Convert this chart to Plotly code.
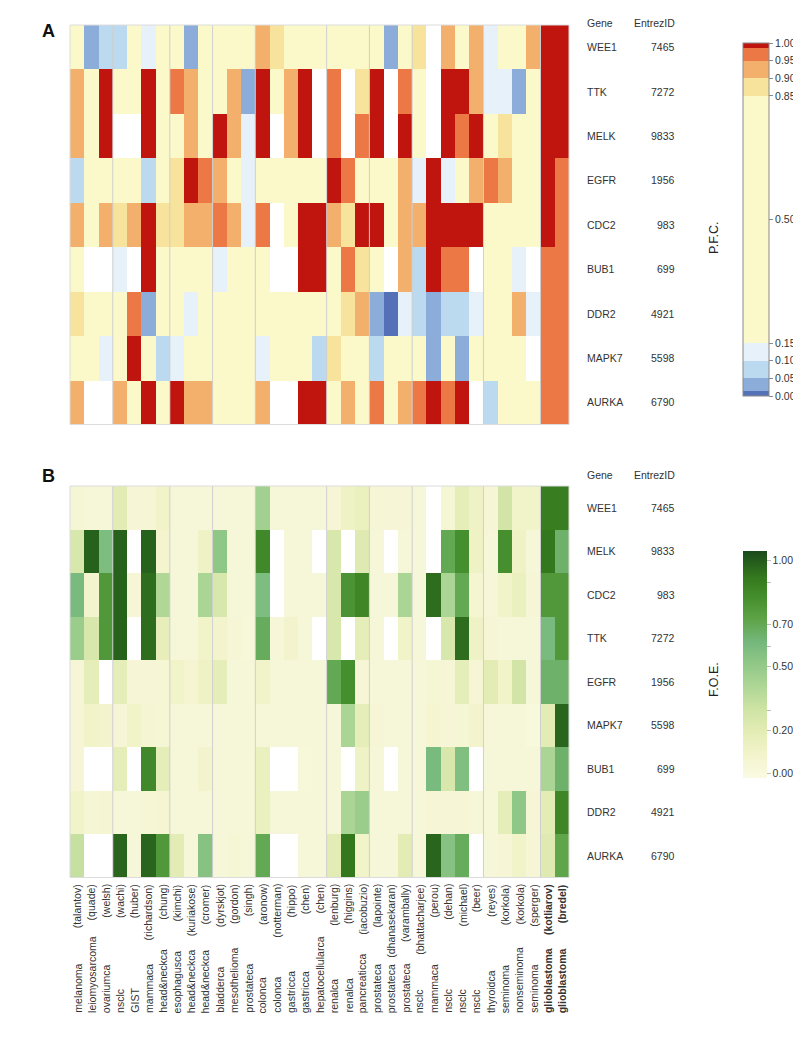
import plotly.graph_objects as go

# ---------------- data ----------------
diseases = ["melanoma", "leiomyosarcoma", "ovariumca", "nsclc", "GIST", "mammaca",
            "head&neckca", "esophagusca", "head&neckca", "head&neckca", "bladderca",
            "mesothelioma", "prostateca", "colonca", "colonca", "gastricca", "gastricca",
            "hepatocellularca", "renalca", "renalca", "pancreaticca", "prostateca",
            "prostateca", "prostateca", "nsclc", "mammaca", "nsclc", "nsclc", "nsclc",
            "thyroidca", "seminoma", "nonseminoma", "seminoma", "glioblastoma", "glioblastoma"]
authors = ["talantov", "quade", "welsh", "wachi", "huber", "richardson", "chung", "kimchi",
           "kuriakose", "cromer", "dyrskjot", "gordon", "singh", "aronow", "notterman",
           "hippo", "chen", "chen", "lenburg", "higgins", "iacobuzio", "lapointe",
           "dhanasekaran", "varambally", "bhattacharjee", "perou", "dehan", "michael",
           "beer", "reyes", "korkola", "korkola", "sperger", "kotliarov", "bredel"]
bold_cols = [33, 34]
group_breaks = [3, 7, 10, 13, 18, 21, 24, 29, 33]

genes_a = ["WEE1", "TTK", "MELK", "EGFR", "CDC2", "BUB1", "DDR2", "MAPK7", "AURKA"]
entrez_a = [7465, 7272, 9833, 1956, 983, 699, 4921, 5598, 6790]
genes_b = ["WEE1", "MELK", "CDC2", "TTK", "EGFR", "MAPK7", "BUB1", "DDR2", "AURKA"]
entrez_b = [7465, 9833, 983, 7272, 1956, 5598, 699, 4921, 6790]

N = None
pfc = [
    [0.5, 0.03, 0.07, 0.07, 0.5, 0.12, 0.5, 0.5, 0.03, 0.5, 0.5, 0.5, 0.5, 0.92, 0.87, 0.5, 0.5, 0.5,
     0.5, 0.5, 0.5, 0.5, 0.03, 0.5, 0.87, N, 0.92, 0.5, 0.92, 0.12, 0.5, 0.5, 0.92, 0.99, 0.99],
    [0.92, 0.5, 0.99, 0.5, 0.5, 0.99, 0.5, 0.97, 0.92, 0.5, 0.5, 0.92, 0.03, 0.99, 0.5, 0.92, 0.99, N,
     0.97, N, 0.87, 0.99, N, 0.97, 0.5, N, 0.99, 0.99, 0.92, 0.12, 0.12, 0.03, 0.5, 0.99, 0.99],
    [0.92, 0.5, 0.99, N, N, 0.99, 0.5, 0.5, 0.92, 0.5, 0.99, 0.92, 0.12, 0.99, N, 0.92, 0.99, N,
     0.97, N, 0.97, 0.99, N, 0.99, 0.5, N, 0.99, 0.97, 0.99, 0.5, 0.87, 0.5, 0.5, 0.99, 0.99],
    [0.07, 0.5, 0.5, 0.5, 0.5, 0.07, 0.5, 0.87, 0.99, 0.97, 0.92, 0.5, 0.12, 0.5, 0.5, 0.5, 0.5, 0.5,
     0.99, 0.97, 0.5, 0.5, 0.5, 0.92, 0.12, 0.99, 0.12, 0.5, 0.92, 0.97, 0.92, 0.5, 0.5, 0.99, 0.97],
    [0.92, 0.5, 0.92, 0.87, 0.92, 0.99, 0.87, 0.87, 0.92, 0.92, 0.97, 0.92, 0.12, 0.97, N, 0.5, 0.99, 0.99,
     0.92, 0.87, 0.99, 0.99, 0.5, 0.92, 0.92, 0.99, 0.99, 0.99, 0.99, 0.5, 0.5, 0.5, 0.5, 0.99, 0.97],
    [0.5, N, N, 0.12, N, 0.99, 0.5, 0.5, 0.5, 0.5, 0.12, 0.5, 0.5, 0.5, N, N, 0.99, 0.99,
     0.5, 0.97, 0.87, 0.5, N, 0.92, 0.07, 0.99, 0.97, 0.97, N, 0.5, 0.5, 0.12, N, 0.97, 0.97],
    [0.87, 0.5, 0.5, 0.5, 0.97, 0.03, 0.5, 0.5, 0.12, 0.5, 0.5, 0.5, 0.5, 0.5, 0.5, 0.5, 0.5, 0.5,
     0.5, 0.87, 0.92, 0.03, 0.005, 0.12, 0.07, 0.03, 0.07, 0.07, 0.12, 0.5, 0.5, 0.92, 0.12, 0.97, 0.97],
    [0.5, 0.5, 0.12, 0.5, 0.99, 0.5, 0.07, 0.12, 0.5, 0.5, 0.5, 0.5, 0.5, 0.12, 0.5, 0.5, 0.5, 0.07,
     0.87, 0.5, 0.5, 0.07, 0.5, 0.5, 0.5, 0.03, 0.5, 0.03, 0.5, 0.5, 0.5, 0.5, N, 0.97, 0.97],
    [0.92, N, N, 0.92, 0.5, 0.99, 0.5, 0.99, 0.92, 0.92, 0.5, 0.5, 0.5, 0.92, N, N, 0.99, 0.99,
     0.5, 0.92, 0.5, 0.97, 0.5, 0.92, 0.97, 0.99, 0.97, 0.99, N, 0.07, 0.5, 0.5, 0.5, 0.97, 0.97],
]

foe = [
    [0.05, 0.03, 0.03, 0.2, 0.04, 0.04, 0.1, 0.03, 0.03, 0.03, 0.03, 0.03, 0.03, 0.45, 0.03, 0.03, 0.03, 0.03,
     0.04, 0.12, 0.15, 0.04, 0.04, 0.04, 0.03, N, 0.05, 0.18, 0.12, 0.04, 0.28, 0.1, 0.1, 0.9, 0.9],
    [0.25, 0.98, 0.58, 0.98, N, 0.98, 0.07, 0.03, 0.03, 0.12, 0.52, 0.03, 0.03, 0.85, N, 0.03, 0.03, N,
     0.25, N, 0.22, 0.03, N, 0.03, 0.03, N, 0.7, 0.82, 0.12, 0.03, 0.82, 0.12, 0.03, 0.92, 0.65],
    [0.6, 0.08, 0.78, 0.98, 0.04, 0.95, 0.4, 0.03, 0.03, 0.42, 0.25, 0.03, 0.03, 0.58, N, 0.03, 0.03, 0.03,
     0.25, 0.8, 0.86, 0.03, 0.03, 0.42, 0.03, 0.95, 0.42, 0.7, 0.06, 0.03, 0.1, 0.15, 0.04, 0.78, 0.78],
    [0.48, 0.25, 0.78, 0.98, N, 0.95, 0.17, 0.03, 0.03, 0.1, 0.08, 0.04, 0.02, 0.68, 0.03, 0.08, 0.03, N,
     0.25, N, 0.18, 0.03, N, 0.1, 0.03, N, 0.25, 0.95, 0.12, 0.04, 0.03, 0.03, 0.03, 0.6, 0.78],
    [0.04, 0.18, N, 0.18, 0.04, 0.04, 0.05, 0.1, 0.06, 0.12, 0.18, 0.03, 0.03, 0.1, 0.03, 0.03, 0.03, 0.03,
     0.7, 0.82, 0.04, 0.03, 0.03, 0.03, 0.03, 0.05, 0.04, 0.18, 0.04, 0.2, 0.1, 0.28, 0.03, 0.65, 0.65],
    [0.04, 0.1, 0.08, 0.04, 0.1, 0.06, 0.05, 0.03, 0.03, 0.03, 0.03, 0.03, 0.03, 0.03, 0.03, 0.03, 0.03, 0.03,
     0.03, 0.42, 0.18, 0.04, 0.03, 0.03, 0.03, 0.06, 0.04, 0.05, 0.08, 0.03, 0.03, 0.03, 0.01, 0.2, 0.97],
    [0.04, N, N, 0.18, N, 0.85, 0.18, 0.03, 0.03, 0.08, 0.03, 0.03, 0.03, 0.15, N, N, 0.02, 0.03,
     0.03, N, 0.12, 0.03, N, 0.03, 0.03, 0.6, 0.25, 0.57, N, 0.03, 0.03, 0.03, 0.03, 0.42, 0.65],
    [0.1, 0.05, 0.06, 0.03, 0.03, 0.05, 0.06, 0.03, 0.03, 0.03, 0.03, 0.03, 0.03, 0.15, 0.03, 0.03, 0.03, 0.03,
     0.03, 0.42, 0.48, 0.03, 0.03, 0.03, 0.03, 0.04, 0.04, 0.04, 0.03, 0.03, 0.18, 0.52, 0.04, 0.2, 0.86],
    [0.33, N, N, 0.97, 0.03, 0.97, 0.78, 0.2, 0.03, 0.55, 0.03, 0.05, 0.03, 0.7, N, N, 0.03, 0.03,
     0.2, 0.92, 0.1, 0.03, 0.03, 0.2, 0.03, 0.97, 0.55, 0.68, N, 0.03, 0.04, 0.1, 0.04, 0.22, 0.72],
]

pfc_ticks = [0.0, 0.05, 0.10, 0.15, 0.50, 0.85, 0.90, 0.95, 1.00]
foe_ticks = [0.0, 0.2, 0.296, 0.5, 0.595, 0.7, 0.893, 1.0]
foe_ticktext = ["0.00", "0.20", "", "0.50", "", "0.70", "", "1.00"]
foe_range = [-0.0235, 1.043]

# ---------------- styling ----------------
# the page body has an 8px margin, so the figure is sized to fill the window from (8, 8)
OFF = 8
W, H = 801 - OFF, 1050 - OFF
FONT = "Liberation Sans, Arial, sans-serif"


def fx(p):
    return (p - OFF) / W


def fy(p):
    return 1 - (p - OFF) / H


pfc_bands = [(0.0, 0.015, "#5470B7"), (0.015, 0.05, "#8CADDA"), (0.05, 0.10, "#BBD9EF"),
             (0.10, 0.15, "#E6F1F9"), (0.15, 0.85, "#FBF8C9"), (0.85, 0.90, "#F7E39B"),
             (0.90, 0.95, "#F3B06C"), (0.95, 0.985, "#EC7846"), (0.985, 1.0, "#C0140F")]
cs_a = []
for lo, hi, c in pfc_bands:
    cs_a.append([lo, c])
    cs_a.append([hi, c])

cs_b = [[0.0, "#FAFAE4"], [0.1, "#F3F4CC"], [0.2, "#E4EDB6"], [0.3, "#CFE4A4"],
        [0.42, "#A9D493"], [0.52, "#8CC585"], [0.6, "#74B77C"], [0.7, "#5EA447"],
        [0.8, "#448D2C"], [0.88, "#357A1E"], [1.0, "#1A4A1C"]]

A_top, A_bot = 25, 424.5
B_top, B_bot = 486, 877.5
X_left, X_right = 70, 569

ncol = len(diseases)
xs = list(range(ncol))

fig = go.Figure()
fig.add_trace(go.Heatmap(
    z=pfc, x=xs, y=list(range(len(genes_a))), xaxis="x", yaxis="y",
    colorscale=cs_a, zmin=0, zmax=1, hoverongaps=False,
    colorbar=dict(x=fx(743), xanchor="left", y=fy((43 + 396) / 2), yanchor="middle",
                  len=(396 - 43) / H, lenmode="fraction", thickness=26, thicknessmode="pixels",
                  outlinewidth=1, outlinecolor="#8a8a8a", ticks="outside", ticklen=4,
                  tickcolor="#8a8a8a", tickvals=pfc_ticks,
                  ticktext=["%.2f" % v for v in pfc_ticks],
                  tickfont=dict(family=FONT, size=10.5, color="#333"), xpad=0, ypad=0)))
fig.add_trace(go.Heatmap(
    z=foe, x=xs, y=list(range(len(genes_b))), xaxis="x2", yaxis="y2",
    colorscale=cs_b, zmin=foe_range[0], zmax=foe_range[1], hoverongaps=False,
    colorbar=dict(x=fx(743), xanchor="left", y=fy((551 + 778) / 2), yanchor="middle",
                  len=(778 - 551) / H, lenmode="fraction", thickness=24, thicknessmode="pixels",
                  outlinewidth=0, ticks="outside", ticklen=4, tickcolor="#bbbbbb",
                  tickvals=foe_ticks, ticktext=foe_ticktext,
                  tickfont=dict(family=FONT, size=10.5, color="#333"), xpad=0, ypad=0)))

ax_common = dict(showgrid=False, zeroline=False, showticklabels=False, ticks="",
                 showline=False, range=[-0.5, ncol - 0.5])
fig.update_layout(
    width=W, height=H, margin=dict(l=0, r=0, t=0, b=0),
    paper_bgcolor="white", plot_bgcolor="white", showlegend=False,
    font=dict(family=FONT, color="#333"),
    xaxis=dict(domain=[fx(X_left), fx(X_right)], anchor="y", **ax_common),
    yaxis=dict(domain=[fy(A_bot), fy(A_top)], anchor="x", range=[8.5, -0.5],
               showgrid=False, zeroline=False, showticklabels=False),
    xaxis2=dict(domain=[fx(X_left), fx(X_right)], anchor="y2", **ax_common),
    yaxis2=dict(domain=[fy(B_bot), fy(B_top)], anchor="x2", range=[8.5, -0.5],
                showgrid=False, zeroline=False, showticklabels=False),
)

shapes = []
for xr, top, bot in (("x", A_top, A_bot), ("x2", B_top, B_bot)):
    for b in group_breaks:
        shapes.append(dict(type="line", xref=xr, yref="paper", x0=b - 0.5, x1=b - 0.5,
                           y0=fy(bot), y1=fy(top), line=dict(color="#cfcfcf", width=1)))
    shapes.append(dict(type="rect", xref="paper", yref="paper", x0=fx(X_left), x1=fx(X_right),
                       y0=fy(bot), y1=fy(top), line=dict(color="#dcdcdc", width=1)))
fig.update_layout(shapes=shapes)

ann = []
# panel letters
ann.append(dict(text="<b>A</b>", x=fx(40), y=fy(19), xref="paper", yref="paper",
                showarrow=False, font=dict(size=18, color="#111")))
ann.append(dict(text="<b>B</b>", x=fx(40), y=fy(476), xref="paper", yref="paper",
                showarrow=False, font=dict(size=18, color="#111")))

# gene tables
for genes, ids, top, bot, yr, head_y in ((genes_a, entrez_a, A_top, A_bot, "y", 15),
                                          (genes_b, entrez_b, B_top, B_bot, "y2", 475)):
    ann.append(dict(text="Gene", x=fx(585), y=fy(head_y), xref="paper", yref="paper",
                    xanchor="left", showarrow=False, font=dict(size=10.5, color="#333")))
    ann.append(dict(text="EntrezID", x=fx(677), y=fy(head_y), xref="paper", yref="paper",
                    xanchor="right", showarrow=False, font=dict(size=10.5, color="#333")))
    for i, (g, e) in enumerate(zip(genes, ids)):
        ann.append(dict(text=g, x=fx(585), y=i, xref="paper", yref=yr, xanchor="left",
                        showarrow=False, font=dict(size=10.5, color="#333")))
        ann.append(dict(text=str(e), x=fx(677), y=i, xref="paper", yref=yr, xanchor="right",
                        showarrow=False, font=dict(size=10.5, color="#333")))

# colorbar titles
ann.append(dict(text="P.F.C.", x=fx(723), y=fy(220), xref="paper", yref="paper",
                textangle=-90, showarrow=False, font=dict(size=12.5, color="#222")))
ann.append(dict(text="F.O.E.", x=fx(723), y=fy(680), xref="paper", yref="paper",
                textangle=-90, showarrow=False, font=dict(size=12.5, color="#222")))

# column labels
for i, (d, a) in enumerate(zip(diseases, authors)):
    bold = i in bold_cols
    at = "(%s)" % a
    dt = d
    if bold:
        at = "<b>%s</b>" % at
        dt = "<b>%s</b>" % dt
    ann.append(dict(text=at, x=i, y=fy(882), xref="x2", yref="paper", textangle=-90,
                    xanchor="center", yanchor="top", showarrow=False,
                    font=dict(size=10.5, color="#333")))
    ann.append(dict(text=dt, x=i, y=fy(1015), xref="x2", yref="paper", textangle=-90,
                    xanchor="center", yanchor="bottom", showarrow=False,
                    font=dict(size=10.5, color="#333")))

fig.update_layout(annotations=ann)
fig.write_html("out.html")
